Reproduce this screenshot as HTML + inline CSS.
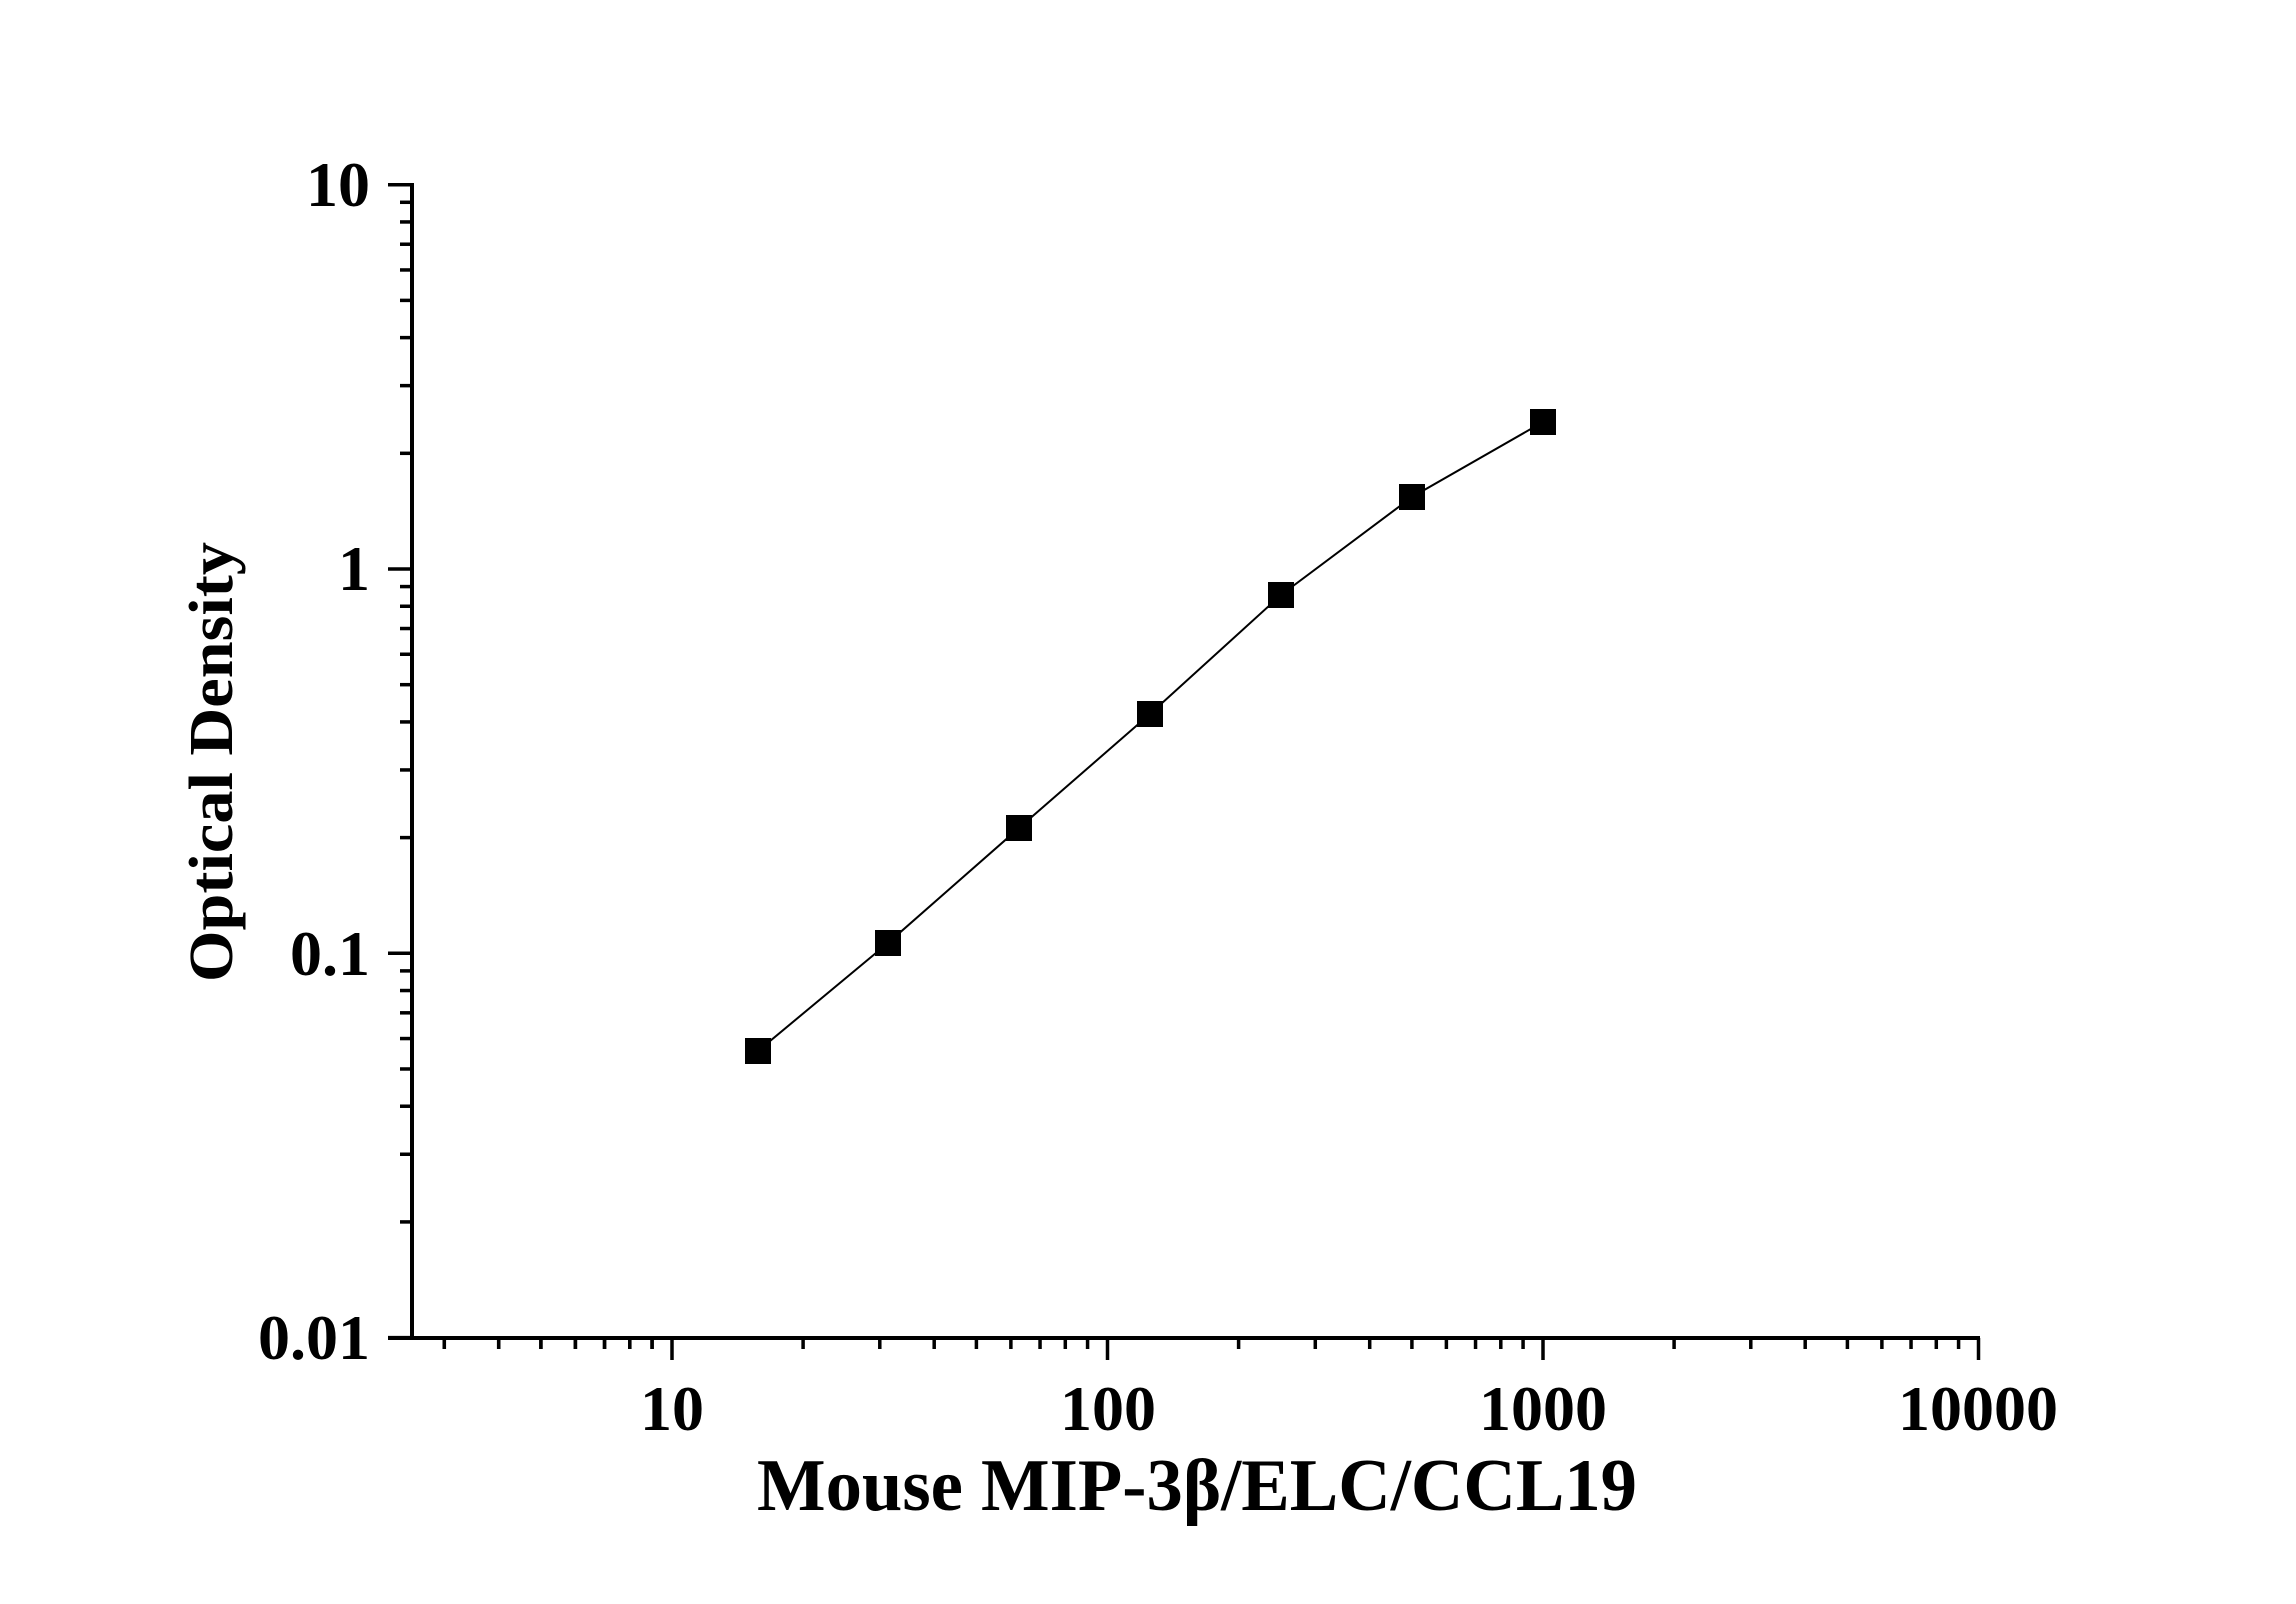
<!DOCTYPE html>
<html><head><meta charset="utf-8"><style>html,body{margin:0;padding:0;background:#fff}svg{display:block}</style></head>
<body>
<svg width="2296" height="1604" viewBox="0 0 2296 1604" xmlns="http://www.w3.org/2000/svg" font-family="'Liberation Serif', serif" font-weight="bold">
<rect width="2296" height="1604" fill="#fff"/>
<g id="ticks" stroke="#000" stroke-width="3.5"></g>
<line x1="412" y1="183" x2="412" y2="1340" stroke="#000" stroke-width="4"/>
<line x1="388" y1="1338" x2="1980" y2="1338" stroke="#000" stroke-width="4"/>
<g font-size="64" text-anchor="end">
<text x="370" y="206">10</text>
<text x="370" y="590">1</text>
<text x="370" y="975">0.1</text>
<text x="370" y="1359">0.01</text>
</g>
<g font-size="64" text-anchor="middle">
<text x="672" y="1430">10</text>
<text x="1108" y="1430">100</text>
<text x="1543" y="1430">1000</text>
<text x="1978" y="1430">10000</text>
</g>
<text x="1197" y="1510" font-size="74" text-anchor="middle" textLength="880" lengthAdjust="spacingAndGlyphs">Mouse MIP-3β/ELC/CCL19</text>
<text transform="translate(232,762) rotate(-90)" font-size="62" text-anchor="middle" textLength="440" lengthAdjust="spacingAndGlyphs">Optical Density</text>
<polyline fill="none" stroke="#000" stroke-width="2" points="758,1051 888,943 1019,828 1150,714 1281,595 1412,497 1543,422"/>
<g fill="#000">
<rect x="745" y="1038" width="26" height="26"/>
<rect x="875" y="930" width="26" height="26"/>
<rect x="1006" y="815" width="26" height="26"/>
<rect x="1137" y="701" width="26" height="26"/>
<rect x="1268" y="582" width="26" height="26"/>
<rect x="1399" y="484" width="26" height="26"/>
<rect x="1530" y="409" width="26" height="26"/>
</g>
<script>
(function(){
var g=document.getElementById('ticks'),ns='http://www.w3.org/2000/svg';
function L(a,b,c,d){var l=document.createElementNS(ns,'line');l.setAttribute('x1',a);l.setAttribute('y1',b);l.setAttribute('x2',c);l.setAttribute('y2',d);g.appendChild(l);}
var x0=672,dx=435.5,y1=569,dy=384.3;
for(var e=0;e<=4;e++){var lv=e-2;
 for(var m=1;m<=9;m++){var v=lv+Math.log10(m);if(v<-2||v>1)continue;var y=y1-v*dy;
  if(m==1)L(388,y,412,y);else L(400,y,412,y);}}
for(var e=0;e<=3;e++){
 for(var m=1;m<=9;m++){var v=e+Math.log10(m);var x=x0+(v-1)*dx;if(x<414||x>1980)continue;
  if(m==1)L(x,1338,x,1360);else L(x,1338,x,1349);}}
L(x0+3*dx,1338,x0+3*dx,1360);
for(var m=3;m<=9;m++){var x=x0+(Math.log10(m)-1)*dx;if(x>414)L(x,1338,x,1349);}
})();
</script>
</svg>
</body></html>
